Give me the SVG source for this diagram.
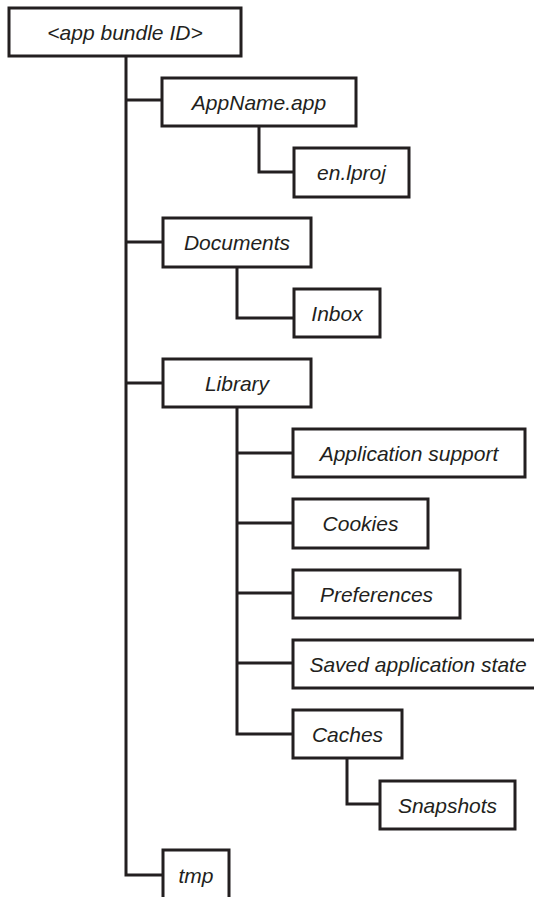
<svg xmlns="http://www.w3.org/2000/svg" width="534" height="897" viewBox="0 0 534 897">
<style>
  rect.box { fill: #ffffff; stroke: #231f20; stroke-width: 3; }
  .conn path { fill: none; stroke: #231f20; stroke-width: 3; }
  text { font-family: "Liberation Sans", Arial, sans-serif; font-style: italic; font-size: 21px; fill: #231f20; text-anchor: middle; }
</style>
<rect width="534" height="897" fill="#ffffff"/>
<g class="conn" id="connectors">
  <path d="M126 56 V875 H163"/>
  <path d="M126 100 H162"/>
  <path d="M126 242 H163"/>
  <path d="M126 383 H163"/>
  <path d="M259 126 V172 H294"/>
  <path d="M237 267 V318 H294"/>
  <path d="M237 407 V734 H293"/>
  <path d="M237 453 H293"/>
  <path d="M237 523 H293"/>
  <path d="M237 593 H293"/>
  <path d="M237 663 H293"/>
  <path d="M347 758 V804 H380"/>
</g>
<g id="root"><rect class="box" x="9" y="8" width="232" height="48"/><text x="125" y="40">&lt;app bundle ID&gt;</text></g>
<g id="appname"><rect class="box" x="162" y="78" width="194" height="48"/><text x="259" y="110">AppName.app</text></g>
<g id="enlproj"><rect class="box" x="294" y="148" width="115" height="49"/><text x="351.5" y="180">en.lproj</text></g>
<g id="documents"><rect class="box" x="163" y="218" width="148" height="49"/><text x="237" y="250">Documents</text></g>
<g id="inbox"><rect class="box" x="294" y="289" width="86" height="48"/><text x="337" y="321">Inbox</text></g>
<g id="library"><rect class="box" x="163" y="359" width="148" height="48"/><text x="237" y="391">Library</text></g>
<g id="appsupport"><rect class="box" x="293" y="429" width="232" height="48"/><text x="409" y="461">Application support</text></g>
<g id="cookies"><rect class="box" x="293" y="499" width="135" height="49"/><text x="360.5" y="531">Cookies</text></g>
<g id="preferences"><rect class="box" x="293" y="570" width="167" height="48"/><text x="376.5" y="602">Preferences</text></g>
<g id="savedstate"><rect class="box" x="293" y="640" width="250" height="48"/><text x="418" y="672">Saved application state</text></g>
<g id="caches"><rect class="box" x="293" y="710" width="109" height="48"/><text x="347.5" y="742">Caches</text></g>
<g id="snapshots"><rect class="box" x="380" y="781" width="135" height="48"/><text x="447.5" y="813">Snapshots</text></g>
<g id="tmp"><rect class="box" x="163" y="850" width="66" height="52"/><text x="196" y="883">tmp</text></g>
</svg>
